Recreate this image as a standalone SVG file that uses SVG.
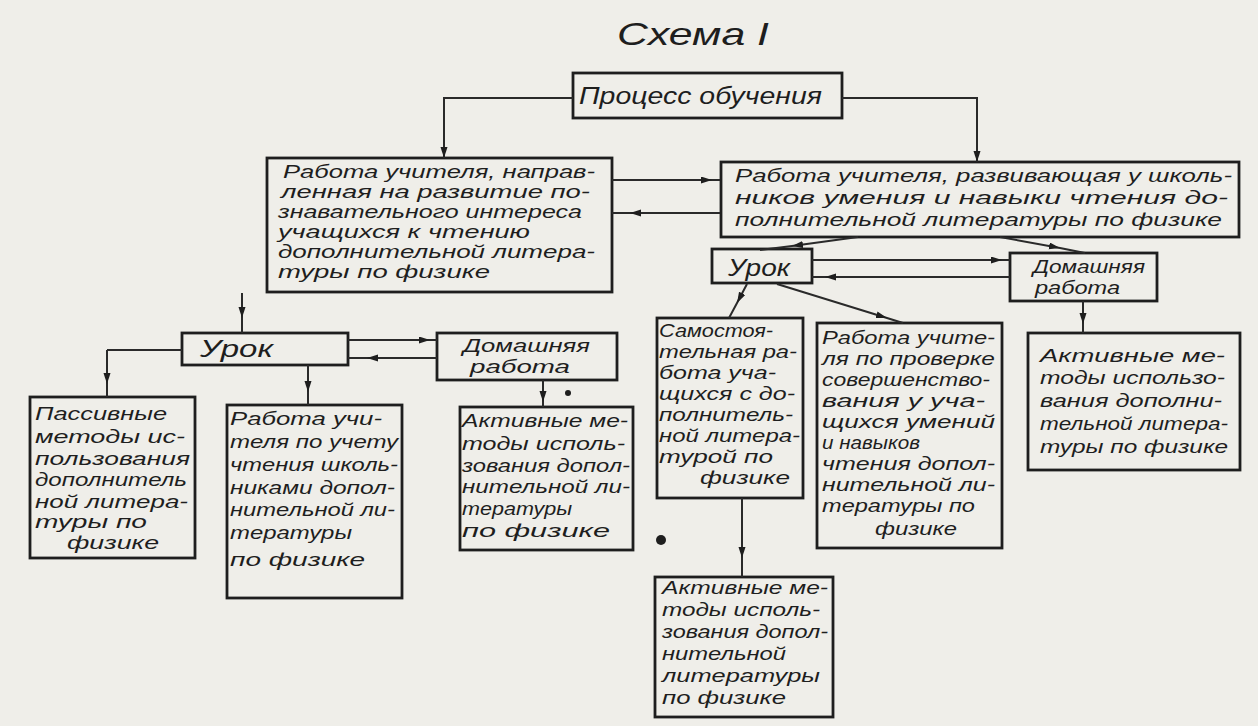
<svg xmlns="http://www.w3.org/2000/svg" width="1258" height="726" viewBox="0 0 1258 726">
<style>
.bg{fill:#efeee9}
.box{fill:none;stroke:#1e1e1e;stroke-width:2.8}
.c{fill:none;stroke:#2a2a2a;stroke-width:2}
text{font-family:"Liberation Sans","DejaVu Sans",sans-serif;font-style:italic;fill:#1e1e1e;font-size:18px}
.t{font-size:23px}
.title{font-size:32px}
</style>
<defs>
<marker id="ah" markerUnits="userSpaceOnUse" markerWidth="12" markerHeight="8" refX="11" refY="3.5" orient="auto">
<path d="M0,0 L11,3.5 L0,7 z" fill="#1e1e1e"/>
</marker>
</defs>
<rect class="bg" x="0" y="0" width="1258" height="726"/>

<g id="title"><text class="title" x="617" y="45" textLength="152" lengthAdjust="spacingAndGlyphs">Схема I</text></g>

<g id="n_process">
<rect class="box" x="573" y="73" width="269" height="45"/>
<text class="t" x="579" y="104" textLength="243" lengthAdjust="spacingAndGlyphs">Процесс обучения</text>
</g>

<g id="n_interest">
<rect class="box" x="267" y="158" width="345" height="134"/>
<text x="283" y="178" textLength="312" lengthAdjust="spacingAndGlyphs">Работа учителя, направ-</text>
<text x="281" y="198" textLength="309" lengthAdjust="spacingAndGlyphs">ленная на развитие по-</text>
<text x="278" y="218" textLength="304" lengthAdjust="spacingAndGlyphs">знавательного интереса</text>
<text x="278" y="238" textLength="252" lengthAdjust="spacingAndGlyphs">учащихся к чтению</text>
<text x="278" y="258" textLength="317" lengthAdjust="spacingAndGlyphs">дополнительной литера-</text>
<text x="278" y="278" textLength="212" lengthAdjust="spacingAndGlyphs">туры по физике</text>
</g>

<g id="n_skills">
<rect class="box" x="721" y="162" width="518" height="75"/>
<text x="735" y="182" textLength="497" lengthAdjust="spacingAndGlyphs">Работа учителя, развивающая у школь-</text>
<text x="735" y="204" textLength="493" lengthAdjust="spacingAndGlyphs">ников умения и навыки чтения до-</text>
<text x="735" y="226" textLength="487" lengthAdjust="spacingAndGlyphs">полнительной литературы по физике</text>
</g>

<g id="n_lesson_l">
<rect class="box" x="182" y="333" width="166" height="32"/>
<text class="t" x="200" y="357" textLength="73" lengthAdjust="spacingAndGlyphs">Урок</text>
</g>

<g id="n_home_l">
<rect class="box" x="437" y="333" width="180" height="47"/>
<text x="463" y="352" textLength="127" lengthAdjust="spacingAndGlyphs">Домашняя</text>
<text x="470" y="373" textLength="100" lengthAdjust="spacingAndGlyphs">работа</text>
</g>

<g id="n_passive">
<rect class="box" x="30" y="397" width="165" height="161"/>
<text x="35" y="420" textLength="132" lengthAdjust="spacingAndGlyphs">Пассивные</text>
<text x="35" y="443" textLength="150" lengthAdjust="spacingAndGlyphs">методы ис-</text>
<text x="35" y="465" textLength="155" lengthAdjust="spacingAndGlyphs">пользования</text>
<text x="35" y="486" textLength="152" lengthAdjust="spacingAndGlyphs">дополнитель</text>
<text x="35" y="508" textLength="153" lengthAdjust="spacingAndGlyphs">ной литера-</text>
<text x="35" y="528" textLength="112" lengthAdjust="spacingAndGlyphs">туры по</text>
<text x="67" y="549" textLength="92" lengthAdjust="spacingAndGlyphs">физике</text>
</g>

<g id="n_account">
<rect class="box" x="227" y="405" width="175" height="193"/>
<text x="230" y="425" textLength="152" lengthAdjust="spacingAndGlyphs">Работа учи-</text>
<text x="230" y="448" textLength="168" lengthAdjust="spacingAndGlyphs">теля по учету</text>
<text x="230" y="471" textLength="168" lengthAdjust="spacingAndGlyphs">чтения школь-</text>
<text x="230" y="494" textLength="165" lengthAdjust="spacingAndGlyphs">никами допол-</text>
<text x="230" y="516" textLength="165" lengthAdjust="spacingAndGlyphs">нительной ли-</text>
<text x="230" y="539" textLength="122" lengthAdjust="spacingAndGlyphs">тературы</text>
<text x="230" y="566" textLength="135" lengthAdjust="spacingAndGlyphs">по физике</text>
</g>

<g id="n_active_l">
<rect class="box" x="460" y="407" width="173" height="143"/>
<text x="462" y="427" textLength="166" lengthAdjust="spacingAndGlyphs">Активные ме-</text>
<text x="462" y="450" textLength="163" lengthAdjust="spacingAndGlyphs">тоды исполь-</text>
<text x="462" y="472" textLength="168" lengthAdjust="spacingAndGlyphs">зования допол-</text>
<text x="462" y="493" textLength="168" lengthAdjust="spacingAndGlyphs">нительной ли-</text>
<text x="462" y="515" textLength="110" lengthAdjust="spacingAndGlyphs">тературы</text>
<text x="462" y="537" textLength="148" lengthAdjust="spacingAndGlyphs">по физике</text>
</g>

<g id="n_lesson_r">
<rect class="box" x="712" y="249" width="100" height="34"/>
<text class="t" x="728" y="276" textLength="62" lengthAdjust="spacingAndGlyphs">Урок</text>
</g>

<g id="n_home_r">
<rect class="box" x="1010" y="253" width="147" height="48"/>
<text x="1033" y="273" textLength="112" lengthAdjust="spacingAndGlyphs">Домашняя</text>
<text x="1035" y="294" textLength="85" lengthAdjust="spacingAndGlyphs">работа</text>
</g>

<g id="n_self">
<rect class="box" x="657" y="318" width="146" height="180"/>
<text x="659" y="337" textLength="114" lengthAdjust="spacingAndGlyphs">Самостоя-</text>
<text x="659" y="358" textLength="138" lengthAdjust="spacingAndGlyphs">тельная ра-</text>
<text x="659" y="379" textLength="117" lengthAdjust="spacingAndGlyphs">бота уча-</text>
<text x="659" y="400" textLength="136" lengthAdjust="spacingAndGlyphs">щихся с до-</text>
<text x="659" y="421" textLength="134" lengthAdjust="spacingAndGlyphs">полнитель-</text>
<text x="659" y="442" textLength="141" lengthAdjust="spacingAndGlyphs">ной литера-</text>
<text x="659" y="463" textLength="114" lengthAdjust="spacingAndGlyphs">турой по</text>
<text x="700" y="484" textLength="90" lengthAdjust="spacingAndGlyphs">физике</text>
</g>

<g id="n_check">
<rect class="box" x="817" y="323" width="185" height="225"/>
<text x="822" y="344" textLength="173" lengthAdjust="spacingAndGlyphs">Работа учите-</text>
<text x="822" y="365" textLength="173" lengthAdjust="spacingAndGlyphs">ля по проверке</text>
<text x="822" y="386" textLength="168" lengthAdjust="spacingAndGlyphs">совершенство-</text>
<text x="822" y="407" textLength="163" lengthAdjust="spacingAndGlyphs">вания у уча-</text>
<text x="822" y="428" textLength="173" lengthAdjust="spacingAndGlyphs">щихся умений</text>
<text x="822" y="449" textLength="98" lengthAdjust="spacingAndGlyphs">и навыков</text>
<text x="822" y="470" textLength="173" lengthAdjust="spacingAndGlyphs">чтения допол-</text>
<text x="822" y="491" textLength="173" lengthAdjust="spacingAndGlyphs">нительной ли-</text>
<text x="822" y="512" textLength="153" lengthAdjust="spacingAndGlyphs">тературы по</text>
<text x="875" y="535" textLength="82" lengthAdjust="spacingAndGlyphs">физике</text>
</g>

<g id="n_active_r">
<rect class="box" x="1028" y="333" width="212" height="137"/>
<text x="1040" y="362" textLength="185" lengthAdjust="spacingAndGlyphs">Активные ме-</text>
<text x="1040" y="384" textLength="185" lengthAdjust="spacingAndGlyphs">тоды использо-</text>
<text x="1040" y="407" textLength="182" lengthAdjust="spacingAndGlyphs">вания дополни-</text>
<text x="1040" y="430" textLength="188" lengthAdjust="spacingAndGlyphs">тельной литера-</text>
<text x="1040" y="453" textLength="188" lengthAdjust="spacingAndGlyphs">туры по физике</text>
</g>

<g id="n_active_b">
<rect class="box" x="655" y="577" width="178" height="140"/>
<text x="662" y="594" textLength="166" lengthAdjust="spacingAndGlyphs">Активные ме-</text>
<text x="662" y="616" textLength="158" lengthAdjust="spacingAndGlyphs">тоды исполь-</text>
<text x="662" y="638" textLength="166" lengthAdjust="spacingAndGlyphs">зования допол-</text>
<text x="662" y="660" textLength="124" lengthAdjust="spacingAndGlyphs">нительной</text>
<text x="662" y="682" textLength="158" lengthAdjust="spacingAndGlyphs">литературы</text>
<text x="662" y="704" textLength="124" lengthAdjust="spacingAndGlyphs">по физике</text>
</g>

<g id="connectors">
<path class="c" d="M573,98 H444 V158" marker-end="url(#ah)"/>
<path class="c" d="M842,98 H977 V162" marker-end="url(#ah)"/>
<path class="c" d="M612,180 L712,180 L720,180" marker-mid="url(#ah)"/>
<path class="c" d="M720,213 L630,213 L612,213" marker-mid="url(#ah)"/>
<path class="c" d="M242,293 V333"/>
<path class="c" d="M242,300 L242,318" marker-end="url(#ah)"/>
<path class="c" d="M182,350 H107"/>
<path class="c" d="M107,350 L107,384 L107,397" marker-mid="url(#ah)"/>
<path class="c" d="M308,365 L308,392 L308,405" marker-mid="url(#ah)"/>
<path class="c" d="M348,340 L430,340 L437,340" marker-mid="url(#ah)"/>
<path class="c" d="M437,358 L367,358 L348,358" marker-mid="url(#ah)"/>
<path class="c" d="M543,380 L543,402 L543,407" marker-mid="url(#ah)"/>
<path class="c" d="M858,237 L792,246 L760,250" marker-mid="url(#ah)"/>
<path class="c" d="M1000,237 L1060,248 L1085,253" marker-mid="url(#ah)"/>
<path class="c" d="M812,260 L1002,260 L1010,260" marker-mid="url(#ah)"/>
<path class="c" d="M1010,277 L825,277 L812,277" marker-mid="url(#ah)"/>
<path class="c" d="M1083,301 L1083,324 L1083,333" marker-mid="url(#ah)"/>
<path class="c" d="M747,284 L737,303 L729,318" marker-mid="url(#ah)"/>
<path class="c" d="M777,284 L887,318 L903,323" marker-mid="url(#ah)"/>
<path class="c" d="M742,498 L742,558 L742,577" marker-mid="url(#ah)"/>
</g>

<circle cx="568" cy="393" r="3" fill="#1e1e1e"/>
<circle cx="661" cy="540" r="5" fill="#1e1e1e"/>
</svg>
